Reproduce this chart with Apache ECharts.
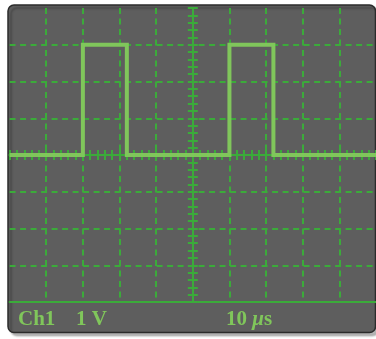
<!DOCTYPE html>
<html><head><meta charset="utf-8">
<script src="https://cdn.jsdelivr.net/npm/echarts@6/dist/echarts.min.js"></script>
<style>html,body{margin:0;padding:0;background:#fff;overflow:hidden}#c{width:376px;height:339px}</style>
</head><body><div id="c"></div>
<script>
// Data (time in microseconds, voltage in volts)
const timeUs = [-50, -30, -30, -18, -18, 10, 10, 22, 22, 50];
const volts  = [0, 0, 3, 3, 0, 0, 3, 3, 0, 0];
const xRange = [-50, 50];
const yRange = [-4, 4];
const xMajorStep = 10;
const xMinorStep = 2;
const yMajorStep = 1;
const yMinorStep = 0.2;
const channelLabel = 'Ch1';
const voltsPerDivLabel = '1 V';
const timePerDivValue = '10 ';
const timePerDivPrefix = 'μ';
const timePerDivUnit = 's';

const traceColor = '#80c65b';
const gridColor = '#3bab3a';
const axisColor = '#3bab3a';
const screenColor = '#5e5e5e';
const textFont = 'bold 21px "Liberation Serif", "DejaVu Serif", serif';

const chart = echarts.init(document.getElementById('c'), null, {renderer: 'canvas'});
const dashed = [6, 4.5];

function centerX(pos, inside) {
  return {
    type: 'value', min: xRange[0], max: xRange[1], interval: xMinorStep, position: pos,
    axisLine: {show: true, onZero: true, onZeroAxisIndex: 0, lineStyle: {color: axisColor, width: 2}},
    axisTick: {show: true, inside: inside, length: 5, lineStyle: {color: axisColor, width: 2}},
    axisLabel: {show: false}, splitLine: {show: false}
  };
}
function centerY(pos, inside) {
  return {
    type: 'value', min: yRange[0], max: yRange[1], interval: yMinorStep, position: pos,
    axisLine: {show: true, onZero: true, onZeroAxisIndex: 0, lineStyle: {color: axisColor, width: 2}},
    axisTick: {show: true, inside: inside, length: 5, lineStyle: {color: axisColor, width: 2}},
    axisLabel: {show: false}, splitLine: {show: false}
  };
}

const option = {
  animation: false,
  backgroundColor: '#ffffff',
  grid: {left: 9.6, top: 8, width: 367.5, height: 294, containLabel: false},
  xAxis: [
    {
      type: 'value', min: xRange[0], max: xRange[1], interval: xMajorStep, position: 'bottom',
      axisLine: {show: true, onZero: false, lineStyle: {color: axisColor, width: 2}},
      axisTick: {show: false}, axisLabel: {show: false},
      splitLine: {show: true, showMinLine: false, showMaxLine: false, lineStyle: {color: gridColor, width: 2, type: dashed}}
    },
    centerX('bottom', true),
    centerX('top', true)
  ],
  yAxis: [
    {
      type: 'value', min: yRange[0], max: yRange[1], interval: yMajorStep, position: 'left',
      axisLine: {show: false, onZero: false}, axisTick: {show: false}, axisLabel: {show: false},
      splitLine: {show: true, showMinLine: false, showMaxLine: false, lineStyle: {color: gridColor, width: 2, type: dashed}}
    },
    centerY('left', true),
    centerY('right', true)
  ],
  graphic: [
    {
      type: 'rect', z: -10, silent: true,
      shape: {x: 8, y: 5, width: 367.5, height: 327.5, r: 6},
      style: {fill: screenColor, stroke: '#2b2b2b', lineWidth: 1.5,
        shadowColor: 'rgba(0,0,0,0.28)', shadowBlur: 2, shadowOffsetX: 3, shadowOffsetY: 3}
    },
    {
      type: 'text', z: 10, silent: true, x: 18, y: 320,
      style: {text: channelLabel, font: textFont, fill: traceColor, textVerticalAlign: 'middle', verticalAlign: 'middle'}
    },
    {
      type: 'text', z: 10, silent: true, x: 76, y: 320,
      style: {text: voltsPerDivLabel, font: textFont, fill: traceColor, textVerticalAlign: 'middle', verticalAlign: 'middle'}
    },
    {
      type: 'text', z: 10, silent: true, x: 226, y: 320,
      style: {
        text: '{n|' + timePerDivValue + '}{m|' + timePerDivPrefix + '}{n|' + timePerDivUnit + '}',
        font: textFont, fill: traceColor, textVerticalAlign: 'middle', verticalAlign: 'middle',
        rich: {
          n: {font: textFont, fill: traceColor},
          m: {font: 'italic bold 21px "Liberation Serif", "DejaVu Serif", serif', fill: traceColor}
        }
      }
    }
  ],
  series: [
    {
      type: 'line', xAxisIndex: 0, yAxisIndex: 0, z: 5,
      data: timeUs.map((t, i) => [t, volts[i]]),
      showSymbol: false, symbol: 'none', clip: true,
      lineStyle: {color: traceColor, width: 4, join: 'miter', cap: 'butt'}
    }
  ]
};
chart.setOption(option);
</script>
</body></html>
